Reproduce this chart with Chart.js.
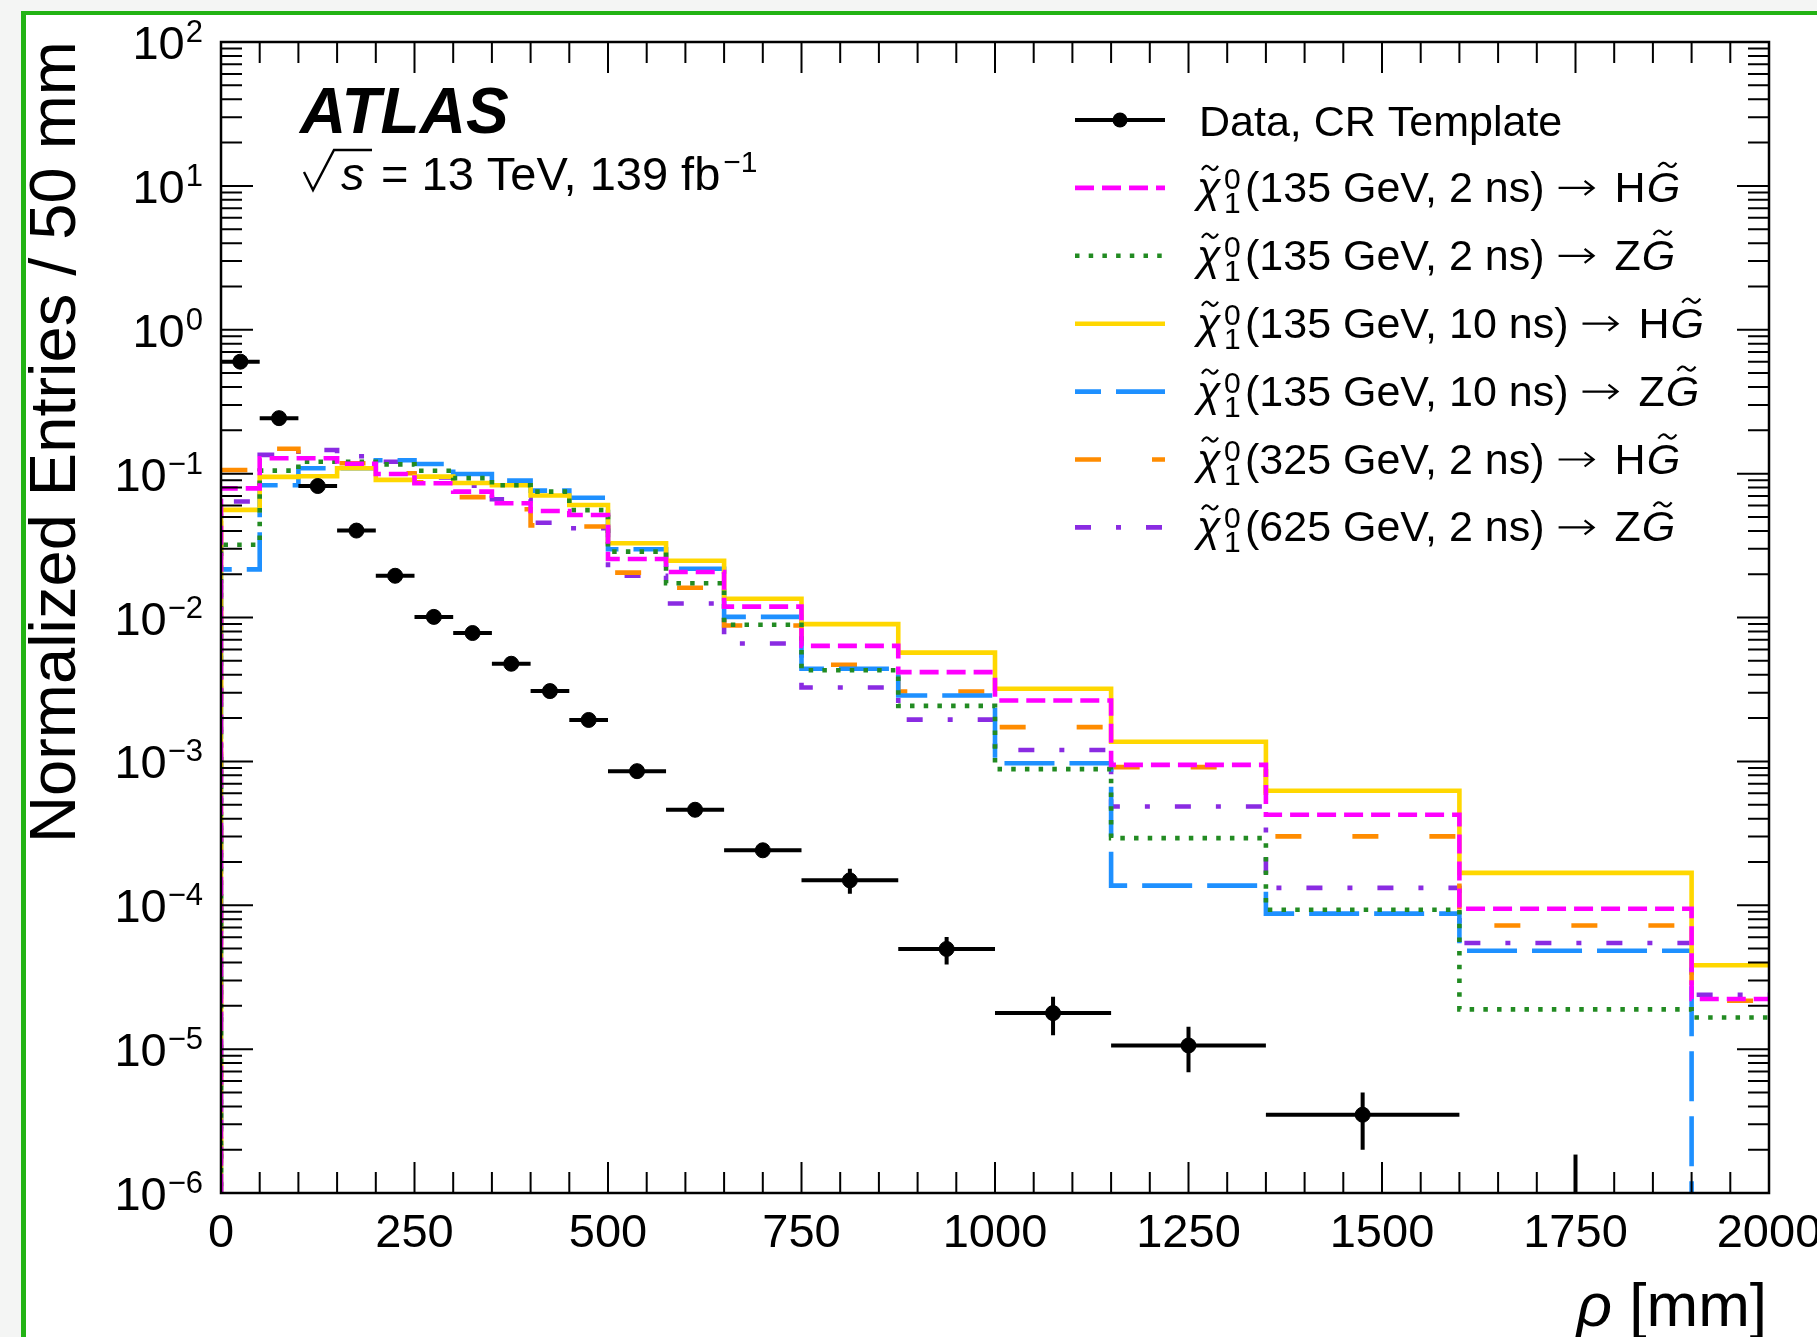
<!DOCTYPE html>
<html>
<head>
<meta charset="utf-8">
<title>Normalized entries vs rho</title>
<script src="https://cdn.jsdelivr.net/npm/chart.js@4.4.0/dist/chart.umd.min.js"></script>
<style>
  html, body { margin: 0; padding: 0; background: #f4f5f4; overflow: hidden; }
  canvas { display: block; }
</style>
</head>
<body>
<canvas id="rhoChart" width="1817" height="1337"></canvas>
<script>
// ---binning and values---

const binEdges = [0, 50, 100, 150, 200, 250, 300, 350, 400, 450, 500, 575, 650, 750, 875, 1000, 1150, 1350, 1600, 1900, 2000];

// data, CR template (last bin empty, bin 1600-1900 has only an upper error)
const dataValues = [0.600, 0.243, 0.082, 0.0402, 0.0195, 0.0101, 0.0078, 0.00477, 0.00308, 0.00194,
  0.000855, 0.000461, 0.000241, 0.000149, 0.0000497, 0.0000178, 0.0000106, 0.0000035, 0, null];
const dataErrUp = [0.004, 0.002, 0.0008, 0.0005, 0.0003, 0.0002, 0.00015, 0.0001, 0.00008, 0.00006,
  0.00003, 0.00002, 0.000014, 0.00003, 0.0000105, 0.0000053, 0.0000037, 0.0000015, 0.00000185, null];
const dataErrDown = [0.004, 0.002, 0.0008, 0.0005, 0.0003, 0.0002, 0.00015, 0.0001, 0.00008, 0.00006,
  0.00003, 0.00002, 0.000014, 0.000029, 0.000011, 0.0000053, 0.0000037, 0.0000015, 0, null];

// signal templates
const sigH135ns2 = [0.079, 0.128, 0.128, 0.117, 0.0995, 0.0857, 0.075, 0.0622, 0.055, 0.0516,
  0.0255, 0.0207, 0.0119, 0.00635, 0.00417, 0.00265, 0.000946, 0.000426, 0.0000946, 0.0000223];
const sigZ135ns2 = [0.032, 0.105, 0.121, 0.121, 0.116, 0.1047, 0.093, 0.083, 0.075, 0.0558,
  0.0287, 0.0173, 0.0089, 0.0043, 0.00243, 0.000884, 0.000293, 0.000093, 0.0000189, 0.0000166];
const sigH135ns10 = [0.056, 0.095, 0.096, 0.109, 0.0905, 0.0953, 0.086, 0.083, 0.0705, 0.0605,
  0.0328, 0.0248, 0.0135, 0.0090, 0.0057, 0.0032, 0.00137, 0.000625, 0.000168, 0.0000383];
const sigZ135ns10 = [0.0216, 0.083, 0.109, 0.109, 0.124, 0.1167, 0.0993, 0.0894, 0.0762, 0.068,
  0.0298, 0.0218, 0.0101, 0.0044, 0.00287, 0.00097, 0.000137, 0.0000875, 0.0000483, 0];
const sigH325ns2 = [0.106, 0.149, 0.130, 0.118, 0.1005, 0.087, 0.0686, 0.0565, 0.0437, 0.0429,
  0.0205, 0.0161, 0.0088, 0.00469, 0.00306, 0.00173, 0.000912, 0.000301, 0.0000724, 0.0000217];
const sigZ625ns2 = [0.064, 0.135, 0.146, 0.132, 0.121, 0.094, 0.0825, 0.0664, 0.0456, 0.0417,
  0.0195, 0.0125, 0.0066, 0.00326, 0.00195, 0.0012, 0.000486, 0.000132, 0.0000547, 0.0000239];

const legendMass = ["135", "135", "135", "135", "325", "625"];
const legendTau = ["2", "2", "10", "10", "2", "2"];
const legendBoson = ["H", "Z", "H", "Z", "H", "Z"];

const xTickLabels = ["0", "250", "500", "750", "1000", "1250", "1500", "1750", "2000"];
const yTickExponents = [2, 1, 0, -1, -2, -3, -4, -5, -6];

const fontFamily = "'Liberation Sans', Arial, Helvetica, sans-serif";
const floorValue = 1e-9; // empty bins drop below the axis
const histWidth = 4.6;

// ---histogram helpers---

function histPoints(values) {
  var pts = [{ x: binEdges[0], y: floorValue }];
  for (var i = 0; i < values.length; i++) {
    var v = values[i] > 0 ? values[i] : floorValue;
    pts.push({ x: binEdges[i], y: v });
    pts.push({ x: binEdges[i + 1], y: v });
  }
  return pts;
}

function histDataset(label, values, color, dash, dashOffset) {
  return {
    label: label,
    data: histPoints(values),
    borderColor: color,
    borderWidth: histWidth,
    borderDash: dash,
    borderDashOffset: dashOffset || 0,
    borderCapStyle: "butt",
    pointRadius: 0,
    fill: false,
    tension: 0,
  };
}

var dataPoints = [];
for (var i = 0; i < dataValues.length; i++) {
  if (dataValues[i] > 0) {
    dataPoints.push({ x: (binEdges[i] + binEdges[i + 1]) / 2, y: dataValues[i] });
  }
}

// legend order == dataset order; dataset 0 is painted last
var datasets = [
  {
    label: "Data, CR Template",
    data: dataPoints,
    showLine: false,
    borderColor: "#000",
    pointRadius: 7.5,
    pointBackgroundColor: "#000",
    pointBorderColor: "#000",
    pointBorderWidth: 1,
  },
  histDataset("χ̃⁰₁(135 GeV, 2 ns) → HG̃", sigH135ns2, "#ff00ff", [19, 8]),
  histDataset("χ̃⁰₁(135 GeV, 2 ns) → ZG̃", sigZ135ns2, "#228b22", [4.5, 9.2]),
  histDataset("χ̃⁰₁(135 GeV, 10 ns) → HG̃", sigH135ns10, "#ffd700", []),
  histDataset("χ̃⁰₁(135 GeV, 10 ns) → ZG̃", sigZ135ns10, "#1e90ff", [50, 15], 24),
  histDataset("χ̃⁰₁(325 GeV, 2 ns) → HG̃", sigH325ns2, "#ff8c00", [26, 51]),
  histDataset("χ̃⁰₁(625 GeV, 2 ns) → ZG̃", sigZ625ns2, "#8a2be2", [16, 25, 5, 25]),
];

// ---page background + green frame---

const pageBackground = {
  id: "pageBackground",
  beforeDraw(chart) {
    const ctx = chart.ctx;
    ctx.save();
    ctx.fillStyle = "#f4f5f4";
    ctx.fillRect(0, 0, chart.width, chart.height);
    ctx.fillStyle = "#ffffff";
    ctx.fillRect(25, 14, chart.width - 25, chart.height - 14);
    ctx.fillStyle = "#22b314";
    ctx.fillRect(21, 11, chart.width - 21, 4);
    ctx.fillRect(21, 11, 5, chart.height - 11);
    ctx.restore();
  },
};

// ---data error bars---

const dataErrorBars = {
  id: "dataErrorBars",
  beforeDatasetDraw(chart, args) {
    if (args.index !== 0) return;
    const ctx = chart.ctx;
    const xs = chart.scales.x;
    const ys = chart.scales.y;
    const area = chart.chartArea;
    ctx.save();
    ctx.strokeStyle = "#000";
    ctx.lineWidth = 4;
    for (let i = 0; i < dataValues.length; i++) {
      const v = dataValues[i];
      if (v === null) continue;
      const xc = xs.getPixelForValue((binEdges[i] + binEdges[i + 1]) / 2);
      const lo = v - dataErrDown[i];
      const hi = v + dataErrUp[i];
      const yLo = lo > 0 ? Math.min(ys.getPixelForValue(lo), area.bottom) : area.bottom;
      const yHi = ys.getPixelForValue(hi);
      ctx.beginPath();
      ctx.moveTo(xc, yLo);
      ctx.lineTo(xc, yHi);
      if (v > 0) {
        const yc = ys.getPixelForValue(v);
        ctx.moveTo(xs.getPixelForValue(binEdges[i]), yc);
        ctx.lineTo(xs.getPixelForValue(binEdges[i + 1]), yc);
      }
      ctx.stroke();
    }
    ctx.restore();
  },
};

// ---frame and ticks on all four sides---

const rootAxes = {
  id: "rootAxes",
  afterDatasetsDraw(chart) {
    const ctx = chart.ctx;
    const area = chart.chartArea;
    const xs = chart.scales.x;
    const ys = chart.scales.y;
    ctx.save();
    ctx.strokeStyle = "#000";
    ctx.lineWidth = 2;
    ctx.beginPath();
    const xMajor = xTickLabels.map(Number);
    for (let m = 0; m < xMajor.length; m++) {
      const step = m < xMajor.length - 1 ? (xMajor[m + 1] - xMajor[m]) / 5 : 0;
      for (let k = 0; k < (step ? 5 : 1); k++) {
        const px = xs.getPixelForValue(xMajor[m] + k * step);
        const len = k === 0 ? 31 : 21;
        ctx.moveTo(px, area.bottom);
        ctx.lineTo(px, area.bottom - len);
        ctx.moveTo(px, area.top);
        ctx.lineTo(px, area.top + len);
      }
    }
    for (let e = -6; e <= 2; e++) {
      for (let k = 1; k <= 9; k++) {
        if (e === 2 && k > 1) break;
        const py = ys.getPixelForValue(k * Math.pow(10, e));
        const len = k === 1 ? 32 : 21;
        ctx.moveTo(area.left, py);
        ctx.lineTo(area.left + len, py);
        ctx.moveTo(area.right, py);
        ctx.lineTo(area.right - len, py);
      }
    }
    ctx.stroke();
    ctx.lineWidth = 2.5;
    ctx.strokeRect(area.left, area.top, area.right - area.left, area.bottom - area.top);
    ctx.restore();
  },
};

// ---labels, titles, ATLAS text and legend---

function drawTilde(ctx, cx, cy, w) {
  ctx.beginPath();
  ctx.moveTo(cx - w / 2, cy + 2);
  ctx.quadraticCurveTo(cx - w / 4, cy - 5, cx, cy);
  ctx.quadraticCurveTo(cx + w / 4, cy + 5, cx + w / 2, cy - 2);
  ctx.stroke();
}

function drawArrow(ctx, x, y, w) {
  ctx.beginPath();
  ctx.moveTo(x, y);
  ctx.lineTo(x + w, y);
  ctx.moveTo(x + w - 9, y - 7);
  ctx.lineTo(x + w, y);
  ctx.lineTo(x + w - 9, y + 7);
  ctx.stroke();
}

const textLayer = {
  id: "textLayer",
  afterDraw(chart) {
    const ctx = chart.ctx;
    const area = chart.chartArea;
    const xs = chart.scales.x;
    const ys = chart.scales.y;
    ctx.save();
    ctx.fillStyle = "#000";
    ctx.strokeStyle = "#000";
    ctx.textBaseline = "alphabetic";

    // x tick labels
    ctx.font = "47px " + fontFamily;
    ctx.textAlign = "center";
    xTickLabels.forEach(function (lab) {
      ctx.fillText(lab, xs.getPixelForValue(Number(lab)), area.bottom + 54);
    });

    // y tick labels 10^n
    ctx.textAlign = "left";
    yTickExponents.forEach(function (e) {
      const py = ys.getPixelForValue(Math.pow(10, e));
      const sup = e < 0 ? "\u2212" + (-e) : String(e);
      ctx.font = "31px " + fontFamily;
      const supW = ctx.measureText(sup).width;
      ctx.font = "47px " + fontFamily;
      const baseW = ctx.measureText("10").width;
      const x = area.left - 18 - supW - baseW - 1;
      ctx.fillText("10", x, py + 17);
      ctx.font = "31px " + fontFamily;
      ctx.fillText(sup, x + baseW + 1, py);
    });

    // axis titles
    ctx.save();
    ctx.font = "65px " + fontFamily;
    ctx.translate(75, area.top - 1);
    ctx.rotate(-Math.PI / 2);
    ctx.textAlign = "right";
    ctx.fillText("Normalized Entries / 50 mm", 0, 0);
    ctx.restore();

    ctx.textAlign = "left";
    ctx.font = "62px " + fontFamily;
    const unitW = ctx.measureText(" [mm]").width;
    ctx.font = "italic 62px " + fontFamily;
    const rhoW = ctx.measureText("ρ").width;
    const rhoX = area.right - 2 - unitW - rhoW;
    ctx.fillText("ρ", rhoX, 1326);
    ctx.font = "62px " + fontFamily;
    ctx.fillText(" [mm]", rhoX + rhoW, 1326);

    // ATLAS label
    ctx.font = "italic bold 64px " + fontFamily;
    ctx.fillText("ATLAS", 300, 133);

    // sqrt(s) = 13 TeV, 139 fb^-1
    ctx.lineWidth = 2.4;
    ctx.beginPath();
    ctx.moveTo(304, 172);
    ctx.lineTo(313, 190);
    ctx.lineTo(334, 150);
    ctx.lineTo(372, 150);
    ctx.stroke();
    ctx.font = "italic 47px " + fontFamily;
    ctx.fillText("s", 341, 190);
    ctx.font = "47px " + fontFamily;
    const lumi = "= 13 TeV, 139 fb";
    ctx.fillText(lumi, 381, 190);
    const lumiEnd = 381 + ctx.measureText(lumi).width;
    ctx.font = "30px " + fontFamily;
    ctx.fillText("\u22121", lumiEnd + 3, 172);

    // legend
    const rowY = function (r) { return 120 + 67.9 * r; };
    const x1 = 1075, x2 = 1165, xt = 1197;

    // data row
    ctx.lineWidth = 4;
    ctx.setLineDash([]);
    ctx.beginPath();
    ctx.moveTo(x1, rowY(0));
    ctx.lineTo(x2, rowY(0));
    ctx.stroke();
    ctx.beginPath();
    ctx.arc((x1 + x2) / 2, rowY(0), 7.5, 0, 2 * Math.PI);
    ctx.fill();
    ctx.font = "43px " + fontFamily;
    ctx.fillText(chart.data.datasets[0].label, xt + 2, rowY(0) + 16);

    for (let s = 1; s < chart.data.datasets.length; s++) {
      const ds = chart.data.datasets[s];
      const y = rowY(s);
      const base = y + 14;
      ctx.save();
      ctx.strokeStyle = ds.borderColor;
      ctx.lineWidth = histWidth;
      ctx.lineCap = "butt";
      ctx.setLineDash(ds.borderDash);
      ctx.lineDashOffset = ds.borderDashOffset;
      ctx.beginPath();
      ctx.moveTo(x1, y);
      ctx.lineTo(x2, y);
      ctx.stroke();
      ctx.restore();

      ctx.lineWidth = 2.2;
      ctx.font = "italic 43px " + fontFamily;
      ctx.fillText("χ", xt, base);
      drawTilde(ctx, xt + 13, base - 34, 16);
      ctx.font = "30px " + fontFamily;
      ctx.fillText("0", xt + 27, y + 1);
      ctx.fillText("1", xt + 27, y + 25);

      let x = xt + 48;
      ctx.font = "43px " + fontFamily;
      const head = "(" + legendMass[s - 1] + " GeV, " + legendTau[s - 1] + " ns)";
      ctx.fillText(head, x, base);
      x += ctx.measureText(head).width + 14;
      drawArrow(ctx, x, base - 14, 35);
      x += 56;
      ctx.fillText(legendBoson[s - 1], x, base);
      x += ctx.measureText(legendBoson[s - 1]).width + 1;
      ctx.font = "italic 43px " + fontFamily;
      const gW = ctx.measureText("G").width;
      ctx.fillText("G", x, base);
      drawTilde(ctx, x + gW / 2 + 4, base - 37, 18);
    }
    ctx.restore();
  },
};

// ---chart---

var ctxR = document.getElementById("rhoChart").getContext("2d");
var rhoChart = new Chart(ctxR, {
  type: "line",
  data: { datasets: datasets },
  options: {
    responsive: false,
    animation: false,
    devicePixelRatio: 1,
    layout: { padding: { left: 221, right: 48, top: 42, bottom: 144 } },
    plugins: {
      legend: { display: false },
      tooltip: { enabled: false },
    },
    scales: {
      x: { type: "linear", min: 0, max: 2000, display: false },
      y: { type: "logarithmic", min: 1e-6, max: 100, display: false },
    },
  },
  plugins: [pageBackground, dataErrorBars, rootAxes, textLayer],
});
</script>
</body>
</html>
